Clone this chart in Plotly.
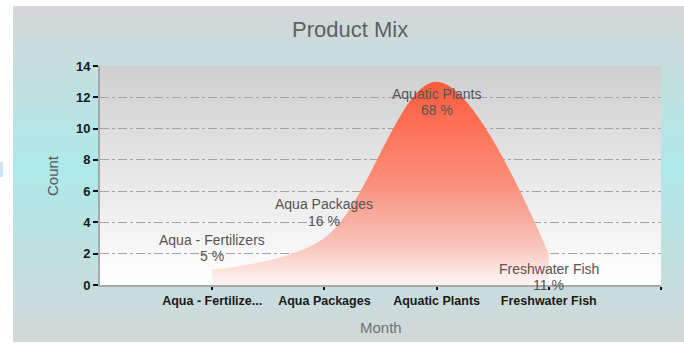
import base64
import plotly.graph_objects as go

# Product counts per category
categories = ["Aqua - Fertilizers", "Aqua Packages", "Aquatic Plants", "Freshwater Fish"]
counts = [1, 3, 13, 2]
# pixel offsets of each point label's two lines (name, percentage) from the point
name_shift = [29, 34, -12, -15]
pct_shift = [13, 17, -28, -31]

W, H = 684, 349
L, R, T, B = 100, 23, 66, 64
PW, PH = W - L - R, H - T - B
FONT = "Liberation Sans, Arial"


def short(name, limit=16):
    return name if len(name) <= limit else name[:limit] + "..."


def gradient_svg(stops):
    s = "".join(f"<stop offset='{o}' stop-color='{c}'/>" for o, c in stops)
    svg = ("<svg xmlns='http://www.w3.org/2000/svg' viewBox='0 0 10 10' "
           "preserveAspectRatio='none' width='10' height='10'>"
           "<defs><linearGradient id='g' x1='0' y1='0' x2='0' y2='1'>" + s +
           "</linearGradient></defs><rect x='0' y='0' width='10' height='10' fill='url(#g)'/></svg>")
    return "data:image/svg+xml;base64," + base64.b64encode(svg.encode()).decode()


def px_box(x0, y0, x1, y1):
    """pixel box -> paper-coordinate image placement"""
    return dict(x=(x0 - L) / PW, y=1 + (T - y0) / PH,
                sizex=(x1 - x0) / PW, sizey=(y1 - y0) / PH)


total = sum(counts)
pcts = [round(100 * c / total) for c in counts]
idx = list(range(len(categories)))

fig = go.Figure()
fig.add_trace(go.Scatter(
    x=idx, y=counts, mode="lines",
    line=dict(shape="spline", smoothing=1, width=0, color="#ff5a3c"),
    fill="tozeroy",
    fillgradient=dict(type="vertical", start=0, stop=max(counts),
                      colorscale=[[0, "#fff6f4"], [0.2, "#f8c3b9"],
                                  [0.5, "#fb8f7b"], [1, "#ff5a3c"]]),
    hoverinfo="skip", showlegend=False,
))

label_font = dict(family=FONT, size=14, color="#555555")
annotations = []
for i, (name, v, p, s1, s2) in enumerate(zip(categories, counts, pcts, name_shift, pct_shift)):
    annotations.append(dict(x=i, y=v, xref="x", yref="y", text=name, showarrow=False,
                            yanchor="middle", yshift=s1, font=label_font))
    annotations.append(dict(x=i, y=v, xref="x", yref="y", text=f"{p} %", showarrow=False,
                            yanchor="middle", yshift=s2, font=label_font))

annotations += [
    dict(text="Product Mix", xref="paper", yref="paper", x=(349.5 - L) / PW, y=1 + (T - 29) / PH,
         showarrow=False, xanchor="center", yanchor="middle",
         font=dict(family=FONT, size=22, color="#606060")),
    dict(text="Count", xref="paper", yref="paper", x=(52 - L) / PW, y=(T + PH - 176) / PH,
         textangle=-90, showarrow=False, xanchor="center", yanchor="middle",
         font=dict(family=FONT, size=15, color="#585858")),
    dict(text="Month", xref="paper", yref="paper", x=(381 - L) / PW, y=(T + PH - 327) / PH,
         showarrow=False, xanchor="center", yanchor="middle",
         font=dict(family=FONT, size=15, color="#737373")),
]

images = [
    dict(source=gradient_svg([(0, "#d5d7d7"), (0.48, "#ade9e9"), (1, "#d3d7d7")]),
         xref="paper", yref="paper", sizing="stretch", layer="below",
         xanchor="left", yanchor="top", **px_box(13, 6, 684, 342)),
    dict(source=gradient_svg([(0, "#cfcfcf"), (1, "#ffffff")]),
         xref="paper", yref="paper", sizing="stretch", layer="below",
         xanchor="left", yanchor="top", **px_box(L, T, L + PW, T + PH)),
]

fig.update_layout(
    width=W, height=H, margin=dict(l=L, r=R, t=T, b=B),
    paper_bgcolor="white", plot_bgcolor="rgba(0,0,0,0)",
    images=images, annotations=annotations,
    shapes=[dict(type="rect", xref="paper", yref="paper", layer="below",
                 x0=(0 - L) / PW, x1=(3 - L) / PW, y0=1 + (T - 177) / PH, y1=1 + (T - 162) / PH,
                 fillcolor="#cfe4f6", line=dict(width=0))],
    font=dict(family=FONT, size=11, color="#1a1a1a"),
    xaxis=dict(range=[-1, 4], tickvals=idx + [4], ticktext=[short(c) for c in categories] + [""],
               showgrid=False, zeroline=False, showline=True, linecolor="#a9a9a9", linewidth=2,
               ticks="outside", ticklen=3, tickwidth=2, tickcolor="#111111",
               tickfont=dict(family=FONT, size=12.5, weight="bold", color="#1a1a1a")),
    yaxis=dict(range=[0, 14], dtick=2, showgrid=True, gridcolor="#a3a3a3", griddash="dashdot",
               gridwidth=1, zeroline=False, showline=True, linecolor="#a9a9a9", linewidth=2,
               ticks="outside", ticklen=5, tickwidth=2, tickcolor="#111111",
               tickfont=dict(family=FONT, size=13, weight="bold", color="#1a1a1a")),
)

fig.write_html("out.html")
